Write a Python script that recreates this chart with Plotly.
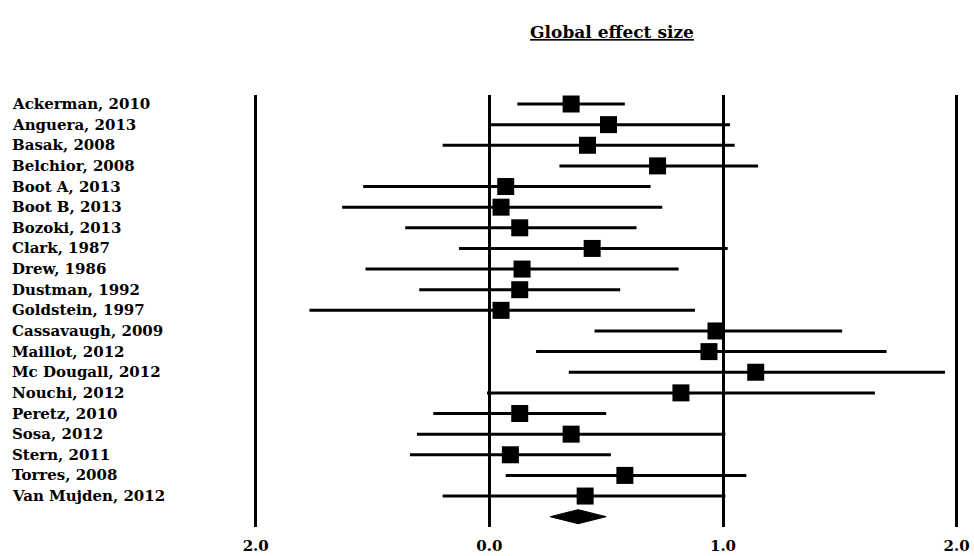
import plotly.graph_objects as go

studies = ["Ackerman, 2010", "Anguera, 2013", "Basak, 2008", "Belchior, 2008",
           "Boot A, 2013", "Boot B, 2013", "Bozoki, 2013", "Clark, 1987",
           "Drew, 1986", "Dustman, 1992", "Goldstein, 1997", "Cassavaugh, 2009",
           "Maillot, 2012", "Mc Dougall, 2012", "Nouchi, 2012", "Peretz, 2010",
           "Sosa, 2012", "Stern, 2011", "Torres, 2008", "Van Mujden, 2012"]
effect = [0.35, 0.51, 0.42, 0.72, 0.07, 0.05, 0.13, 0.44, 0.14, 0.13,
          0.05, 0.97, 0.94, 1.14, 0.82, 0.13, 0.35, 0.09, 0.58, 0.41]
lower = [0.12, 0.00, -0.20, 0.30, -0.54, -0.63, -0.36, -0.13, -0.53, -0.30,
         -0.77, 0.45, 0.20, 0.34, -0.01, -0.24, -0.31, -0.34, 0.07, -0.20]
upper = [0.58, 1.03, 1.05, 1.15, 0.69, 0.74, 0.63, 1.02, 0.81, 0.56,
         0.88, 1.51, 1.70, 1.95, 1.65, 0.50, 1.01, 0.52, 1.10, 1.01]
global_effect = 0.38
global_lower = 0.26
global_upper = 0.50
tick_values = [-1, 0, 1, 2]
tick_labels = ["2.0", "0.0", "1.0", "2.0"]
title_text = "Global effect size"

rows = list(range(len(studies)))
global_row = len(studies)

font_fam = "DejaVu Serif"

fig = go.Figure()
fig.add_trace(go.Scatter(
    x=effect, y=rows, mode="markers",
    marker=dict(symbol="square", size=17, color="black"),
    error_x=dict(type="data", symmetric=False,
                 array=[u - e for u, e in zip(upper, effect)],
                 arrayminus=[e - l for e, l in zip(effect, lower)],
                 width=0, thickness=3, color="black"),
    showlegend=False, hoverinfo="skip"))

h = 0.34
fig.add_trace(go.Scatter(
    x=[global_lower, global_effect, global_upper, global_effect, global_lower],
    y=[global_row, global_row - h, global_row, global_row + h, global_row],
    mode="lines", fill="toself", fillcolor="black",
    line=dict(color="black", width=1), showlegend=False, hoverinfo="skip"))

for i, name in enumerate(studies):
    fig.add_annotation(x=-0.284, xref="paper", y=i, yref="y", text="<b>%s</b>" % name,
                       showarrow=False, xanchor="left", yanchor="middle",
                       font=dict(family=font_fam, size=15, color="black"))

fig.update_layout(
    width=974, height=556,
    margin=dict(l=223, r=1, t=95, b=29),
    plot_bgcolor="white", paper_bgcolor="white",
    title=dict(text="<b><u>%s</u></b>" % title_text, x=612 / 974, xanchor="center",
               y=1 - 32 / 556, yanchor="middle",
               font=dict(family=font_fam, size=17, color="black")),
    xaxis=dict(range=[-1.14, 2.07], tickvals=tick_values,
               ticktext=["<b>%s</b>" % t for t in tick_labels],
               showgrid=True, gridcolor="black", gridwidth=3, zeroline=False,
               showline=False, ticks="outside", ticklen=5, tickcolor="rgba(0,0,0,0)",
               tickfont=dict(family=font_fam, size=15, color="black"),
               automargin=False, fixedrange=True),
    yaxis=dict(range=[20.5, -0.436], showgrid=False, zeroline=False, showline=False,
               showticklabels=False, ticks="", automargin=False, fixedrange=True),
)

fig.write_html("out.html")
